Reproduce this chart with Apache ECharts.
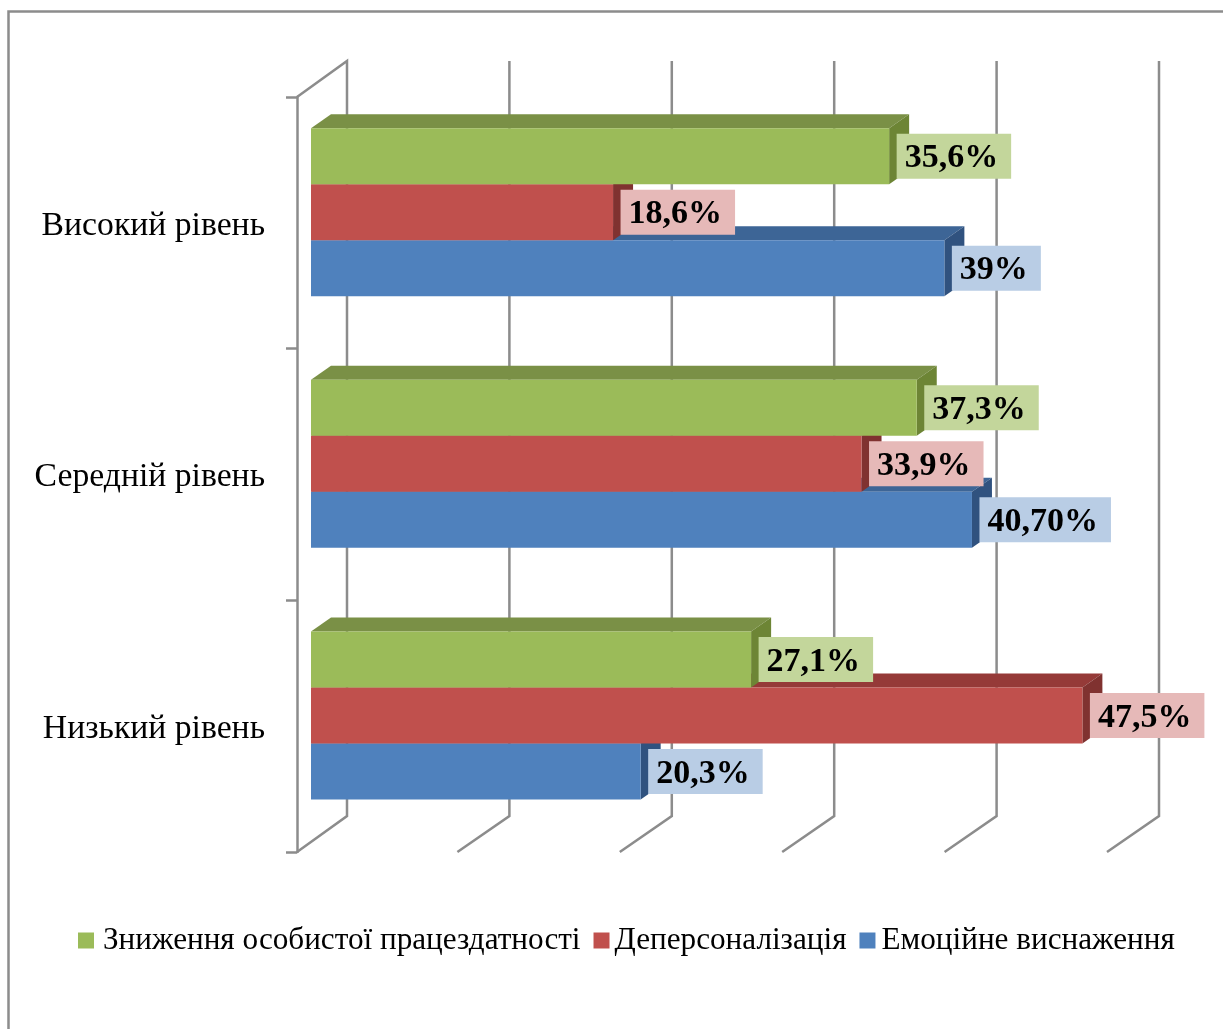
<!DOCTYPE html>
<html><head><meta charset="utf-8">
<style>html,body{margin:0;padding:0;background:#fff}#c{width:1223px;height:1029px}</style>
<script src="https://cdn.jsdelivr.net/npm/echarts@6/dist/echarts.min.js"></script>
</head><body><div id="c"></div>
<script>
var categories = ['Низький рівень', 'Середній рівень', 'Високий рівень'];
var tickValues = [0, 10, 20, 30, 40, 50];
var emotional = [20.3, 40.7, 39];
var emotionalLabels = ['20,3%', '40,70%', '39%'];
var depersonal = [47.5, 33.9, 18.6];
var depersonalLabels = ['47,5%', '33,9%', '18,6%'];
var reduced = [27.1, 37.3, 35.6];
var reducedLabels = ['27,1%', '37,3%', '35,6%'];

var FONT = '"Liberation Serif","Times New Roman",serif';
var GRAY = '#8c8c8c';
var LABEL_FONT = 'bold 34px ' + FONT;
var measureCtx = document.createElement('canvas').getContext('2d');
function textWidth(t) { measureCtx.font = LABEL_FONT; return measureCtx.measureText(t).width; }

function barRender(front, top, side, labelBg, labels, slot, order) {
  return function (params, api) {
    var v = api.value(0), c = api.value(1);
    var base = api.coord([0, c]);
    var end = api.coord([v, c]);
    var band = api.size([0, 1])[1];
    var h = band * 0.2225;
    var dx0 = 14, dy0 = -10.7, dz = 20, dh = 14;
    var y0 = base[1] + dy0 + (slot - 1.5) * h;
    var x0 = base[0] + dx0, x1 = end[0] + dx0, y1 = y0 + h;
    var ym = (y0 + y1) / 2;
    var txt = labels[params.dataIndex];
    return {
      type: 'group',
      children: [
        { type: 'polygon', z2: order, shape: { points: [[x0, y0], [x0 + dz, y0 - dh], [x1 + dz, y0 - dh], [x1, y0]] }, style: { fill: top } },
        { type: 'polygon', z2: order, shape: { points: [[x1, y0], [x1 + dz, y0 - dh], [x1 + dz, y1 - dh], [x1, y1]] }, style: { fill: side } },
        { type: 'rect', z2: order + 1, shape: { x: x0, y: y0, width: x1 - x0, height: h }, style: { fill: front } },
        { type: 'rect', z2: 100, shape: { x: x1 + 7.5, y: ym - 22.5, width: textWidth(txt) + 21, height: 45 }, style: { fill: labelBg } },
        { type: 'text', z2: 101, style: {
            text: txt, x: x1 + 15.5, y: ym + 2.5,
            align: 'left', verticalAlign: 'middle',
            font: LABEL_FONT, fill: '#000'
        } }
      ]
    };
  };
}
function pairs(arr) { return arr.map(function (v, i) { return [v, i]; }); }

var chart = echarts.init(document.getElementById('c'), null, { renderer: 'canvas' });
chart.setOption({
  animation: false,
  backgroundColor: '#fff',
  graphic: [{
    type: 'polyline', silent: true,
    shape: { points: [[8.5, 1029], [8.5, 11.5], [1223, 11.5]] },
    style: { stroke: GRAY, lineWidth: 2.5, fill: 'none' }
  }],
  grid: { left: 297, top: 97, width: 812, height: 755, containLabel: false },
  xAxis: { type: 'value', min: 0, max: 50, interval: 10, axisLine: { show: false }, axisTick: { show: false }, axisLabel: { show: false }, splitLine: { show: false } },
  yAxis: {
    type: 'category', data: categories, boundaryGap: true,
    axisLine: { show: true, lineStyle: { color: GRAY, width: 2.5 } },
    axisTick: { show: true, length: 11, lineStyle: { color: GRAY, width: 2.5 } },
    axisLabel: {
      margin: 32, color: '#000',
      formatter: '{a|{value}}',
      rich: { a: { fontFamily: FONT, fontSize: 33.7, color: '#000', padding: [6, 0, 0, 0] } }
    }
  },
  legend: {
    left: 73, top: 920, itemWidth: 16, itemHeight: 16, itemGap: 13,
    icon: 'rect',
    data: [
      { name: 'Зниження особистої працездатності', textStyle: { padding: [0, 0, 0, 4] } },
      { name: 'Деперсоналізація', textStyle: { padding: [0, 0, 0, 0] } },
      { name: 'Емоційне виснаження', textStyle: { padding: [0, 0, 0, 1] } }
    ],
    textStyle: { fontFamily: FONT, fontSize: 31.2, color: '#000' }
  },
  series: [
    {
      name: 'walls', type: 'custom', z: 1, silent: true,
      data: tickValues.map(function (v) { return [v]; }),
      encode: { x: 0 },
      renderItem: function (params, api) {
        var v = api.value(0);
        var p = api.coord([v, 0]);
        var top = params.coordSys.y, bottom = top + params.coordSys.height;
        var frontX = v === 0 ? p[0] : p[0] - 2;
        var bx = p[0] + 50;
        var pts = [[frontX, bottom], [bx, bottom - 36], [bx, top - 36]];
        if (v === 0) pts.push([p[0], top]);
        return { type: 'polyline', shape: { points: pts }, style: { stroke: GRAY, lineWidth: 2.5, fill: 'none' } };
      }
    },
    {
      name: 'Емоційне виснаження', type: 'custom', z: 2, itemStyle: { color: '#4f81bd' },
      data: pairs(emotional), encode: { x: 0, y: 1 },
      renderItem: barRender('#4f81bd', '#3d6596', '#30527f', '#b9cde5', emotionalLabels, 2, 1)
    },
    {
      name: 'Деперсоналізація', type: 'custom', z: 2, itemStyle: { color: '#c0504d' },
      data: pairs(depersonal), encode: { x: 0, y: 1 },
      renderItem: barRender('#c0504d', '#953a38', '#803230', '#e6b9b8', depersonalLabels, 1, 3)
    },
    {
      name: 'Зниження особистої працездатності', type: 'custom', z: 2, itemStyle: { color: '#9bbb59' },
      data: pairs(reduced), encode: { x: 0, y: 1 },
      renderItem: barRender('#9bbb59', '#7a9046', '#6d8535', '#c3d69b', reducedLabels, 0, 5)
    }
  ]
});
</script></body></html>
